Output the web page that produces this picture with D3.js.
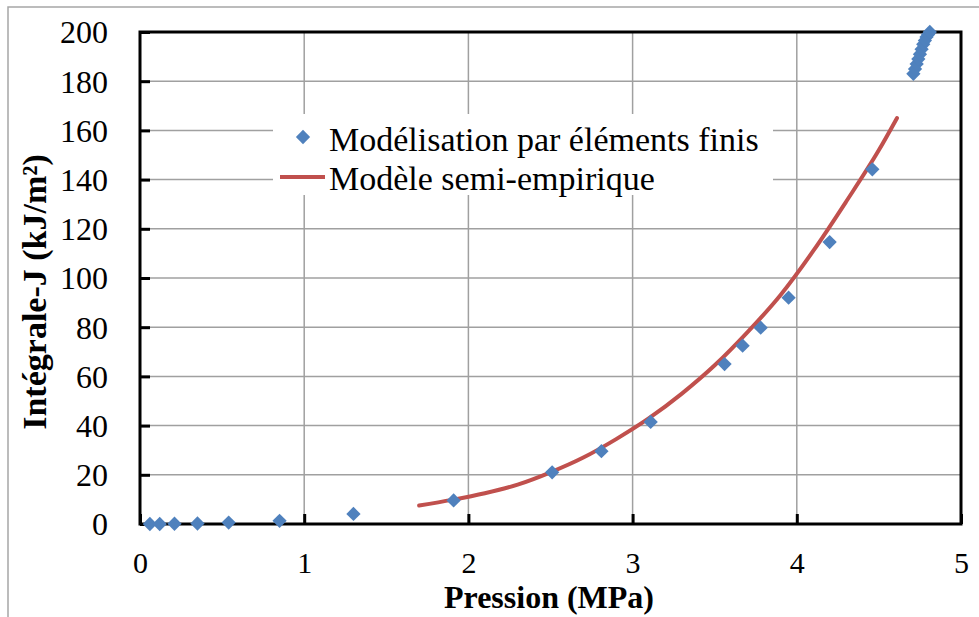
<!DOCTYPE html>
<html>
<head>
<meta charset="utf-8">
<script src="https://cdn.jsdelivr.net/npm/d3@7"></script>
<style>
  html, body { margin: 0; padding: 0; background: #fff; }
  svg { display: block; }
  text { font-family: "Liberation Serif", "Times New Roman", serif; }
</style>
</head>
<body>
<svg id="chart" width="979" height="617"></svg>
<script>
// Finite-element results: pressure (MPa) and J-integral (kJ/m²)
const fePressure = [0.06, 0.12, 0.21, 0.35, 0.54, 0.85, 1.30, 1.91, 2.51, 2.81, 3.11, 3.56, 3.67, 3.78, 3.95, 4.20, 4.46,
                    4.71, 4.72, 4.73, 4.74, 4.75, 4.76, 4.77, 4.78, 4.79, 4.80, 4.81];
const feJ        = [0.0, 0.0, 0.1, 0.2, 0.6, 1.3, 4.1, 9.6, 21.0, 29.6, 41.5, 65.0, 72.5, 79.8, 92.0, 114.6, 144.2,
                    183.0, 185.0, 187.0, 189.0, 191.0, 193.0, 195.0, 196.5, 198.0, 199.0, 200.0];

// Semi-empirical model curve
const modelPressure = [1.70, 1.90, 2.10, 2.30, 2.50, 2.70, 2.90, 3.10, 3.30, 3.50, 3.70, 3.90, 4.10, 4.30, 4.50, 4.61];
const modelJ        = [7.5, 9.8, 12.5, 16.0, 21.0, 27.0, 34.5, 43.0, 53.0, 64.5, 78.0, 93.0, 111.0, 131.0, 152.0, 165.0];

// Axis ticks
const xTicks = [0, 1, 2, 3, 4, 5];
const yTicks = [0, 20, 40, 60, 80, 100, 120, 140, 160, 180, 200];

const legendLabels = ["Modélisation par éléments finis", "Modèle semi-empirique"];

const blue = "#4f81bd";
const red = "#c0504d";

const svg = d3.select("#chart");
const plot = { left: 140, right: 961, top: 32, bottom: 524 };

const x = d3.scaleLinear().domain([0, 5]).range([plot.left, plot.right]);
const y = d3.scaleLinear().domain([0, 200]).range([plot.bottom, plot.top]);

// Outer chart frame
svg.append("rect")
  .attr("x", 8).attr("y", 7).attr("width", 1000).attr("height", 700)
  .attr("fill", "none").attr("stroke", "#a6a6a6").attr("stroke-width", 1.5);

// Gridlines
const grid = svg.append("g");
grid.selectAll("line.h").data(yTicks.slice(1, -1)).join("line")
  .attr("x1", plot.left).attr("x2", plot.right)
  .attr("y1", d => y(d)).attr("y2", d => y(d))
  .attr("stroke", "#a0a0a0").attr("stroke-width", 1.5);
grid.selectAll("line.v").data(xTicks.slice(1, -1)).join("line")
  .attr("x1", d => x(d)).attr("x2", d => x(d))
  .attr("y1", plot.top).attr("y2", plot.bottom)
  .attr("stroke", "#a0a0a0").attr("stroke-width", 1.5);

// Axes with inward ticks
const xAxis = d3.axisBottom(x).tickValues(xTicks).tickSize(-10).tickFormat(d3.format("d"));
const yAxis = d3.axisLeft(y).tickValues(yTicks).tickSize(-10).tickPadding(32).tickFormat(d3.format("d"));

const gx = svg.append("g").attr("transform", `translate(0,${plot.bottom})`).call(xAxis);
const gy = svg.append("g").attr("transform", `translate(${plot.left},0)`).call(yAxis);
[gx, gy].forEach(g => {
  g.select(".domain").remove();
  g.selectAll(".tick line").attr("stroke", "#000").attr("stroke-width", 3);
  g.selectAll(".tick text").attr("fill", "#000").attr("font-size", 32)
    .attr("font-family", "Liberation Serif, Times New Roman, serif");
});
gx.selectAll(".tick text").attr("y", 49).attr("dy", 0).attr("font-size", 30);
gy.selectAll(".tick text").attr("dy", "0.34em");

// Plot frame
svg.append("rect")
  .attr("x", plot.left).attr("y", plot.top)
  .attr("width", plot.right - plot.left).attr("height", plot.bottom - plot.top)
  .attr("fill", "none").attr("stroke", "#000").attr("stroke-width", 3);

// Legend box
const lg = svg.append("g");
lg.append("rect").attr("x", 273).attr("y", 114).attr("width", 500).attr("height", 81).attr("fill", "#fff");
const diamond = d3.symbol().type(d3.symbolDiamond2).size(130);
lg.append("path").attr("d", diamond).attr("transform", "translate(303,137)").attr("fill", blue);
lg.append("line").attr("x1", 280).attr("x2", 325).attr("y1", 177).attr("y2", 177)
  .attr("stroke", red).attr("stroke-width", 4);
lg.selectAll("text").data(legendLabels).join("text")
  .attr("x", 329).attr("y", (d, i) => 151 + i * 39)
  .attr("font-size", 34).attr("fill", "#000").text(d => d);

// Model curve
const line = d3.line().x(d => x(d[0])).y(d => y(d[1])).curve(d3.curveMonotoneX);
svg.append("path")
  .datum(d3.zip(modelPressure, modelJ))
  .attr("d", line)
  .attr("fill", "none").attr("stroke", red).attr("stroke-width", 4).attr("stroke-linecap", "round");

// Finite-element points
svg.append("g").selectAll("path").data(d3.zip(fePressure, feJ)).join("path")
  .attr("d", diamond)
  .attr("transform", d => `translate(${x(d[0])},${y(d[1])})`)
  .attr("fill", blue);

// Axis titles
svg.append("text")
  .attr("x", 549).attr("y", 608)
  .attr("text-anchor", "middle").attr("font-size", 32).attr("font-weight", "bold")
  .text("Pression (MPa)");
svg.append("text")
  .attr("transform", "translate(46,292) rotate(-90)")
  .attr("text-anchor", "middle").attr("font-size", 34).attr("font-weight", "bold")
  .text("Intégrale-J (kJ/m²)");
</script>
</body>
</html>
